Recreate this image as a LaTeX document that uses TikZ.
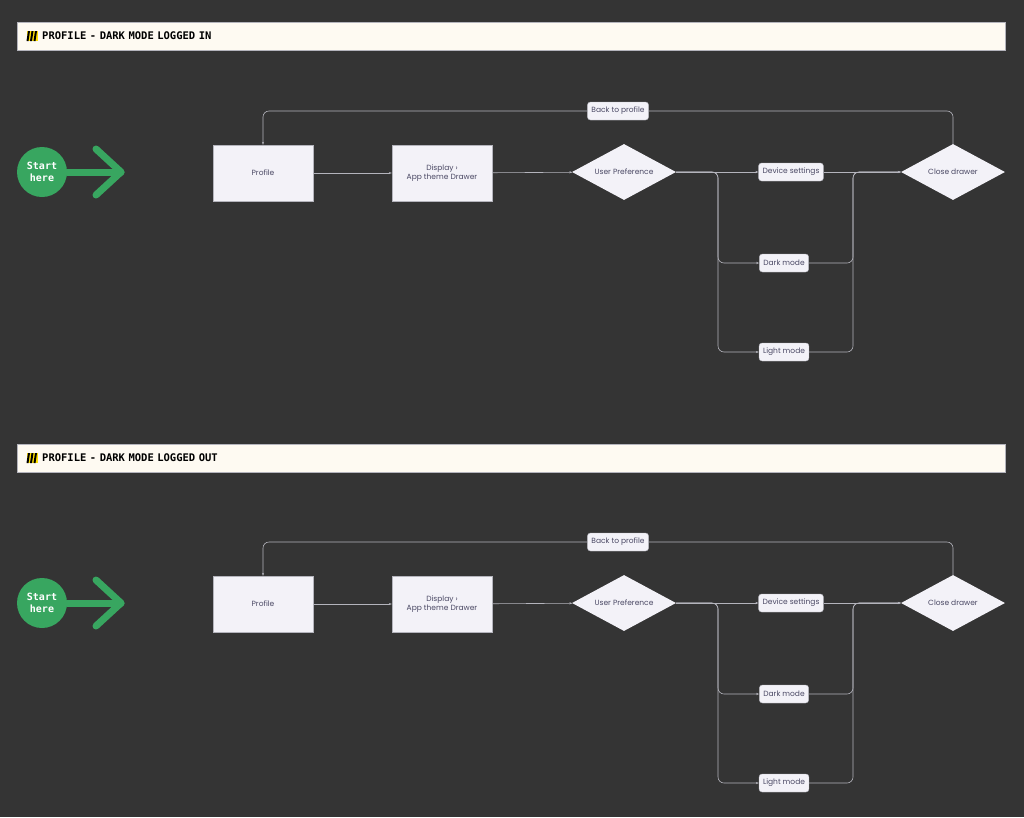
\documentclass[tikz,border=0pt]{standalone}
\usepackage{fontspec}
\setmainfont{Poppins}
\setmonofont{DejaVu Sans Mono}
\usetikzlibrary{shapes.geometric,arrows.meta}
\definecolor{BgColor}{RGB}{52,52,52}
\definecolor{BannerColor}{RGB}{254,250,242}
\definecolor{NodeColor}{RGB}{243,242,248}
\definecolor{TextColor}{RGB}{74,72,100}
\definecolor{LineColor}{RGB}{180,180,188}
\definecolor{StartColor}{RGB}{56,166,96}

\begin{document}
\begin{tikzpicture}[x=1pt, y=-1pt,
    box/.style={draw=LineColor, fill=NodeColor, minimum width=100pt, minimum height=56pt,
        font=\fontsize{7.5}{9}\selectfont, text=TextColor, align=center, inner sep=1pt},
    choice/.style={diamond, fill=NodeColor, minimum width=104pt, minimum height=56pt, aspect=1.85,
        inner sep=0pt, font=\fontsize{7.5}{9}\selectfont, text=TextColor},
    pill/.style={draw=LineColor, fill=NodeColor, rounded corners=3pt, minimum height=18pt,
        inner xsep=4pt, font=\fontsize{7.5}{9}\selectfont, text=TextColor},
    link/.style={draw=LineColor, line width=0.6pt, rounded corners=6pt, -{Stealth[length=3pt]}},
    banner/.style={fill=BannerColor, draw=LineColor, minimum width=988pt, minimum height=28pt,
        anchor=west, text width=970pt, font=\ttfamily\bfseries\fontsize{10.5}{12}\selectfont}]

    \fill[BgColor] (0,0) rectangle (1024,817);

    \foreach \dy/\by/\sec/\title in {0/36/A/LOGGED IN, 431/27/B/LOGGED OUT} {
        \begin{scope}[yshift=-\dy pt]
            % banner with a small barrier sign
            \node[banner] (\sec-banner) at (17,\by) {\hspace*{16pt}PROFILE - DARK MODE \title};
            \fill[yellow!80!orange] (27,\by-5) rectangle (38,\by+5);
            \foreach \i in {0,1,2} \fill[black] (28+3.5*\i,\by-5) -- (30+3.5*\i,\by-5) -- (28.5+3.5*\i,\by+5) -- (26.5+3.5*\i,\by+5) -- cycle;

            % start marker
            \node[circle, fill=StartColor, minimum size=50pt, text=white, align=center,
                font=\ttfamily\bfseries\fontsize{10}{12}\selectfont] (\sec-start) at (42,172) {Start\\here};
            \coordinate (\sec-tip) at (121,172);
            \draw[StartColor, line width=7pt, line cap=round] (\sec-start.east) -- (\sec-tip);
            \draw[StartColor, line width=7pt, line cap=round, line join=round]
                (96,149) -- (\sec-tip) -- (96,195);

            \node[box] (\sec-profile) at (263,173) {Profile};
            \node[box] (\sec-display) at (442,173) {Display ›\\App theme Drawer};
            \node[choice] (\sec-pref) at (624,172) {User Preference};
            \node[choice] (\sec-close) at (953,172) {Close drawer};
            \node[pill] (\sec-device) at (791,172) {Device settings};
            \node[pill] (\sec-dark) at (784,263) {Dark mode};
            \node[pill] (\sec-light) at (784,352) {Light mode};
            \node[pill] (\sec-back) at (618,111) {Back to profile};

            \draw[link] (\sec-profile) -- (\sec-display);
            \draw[link] (\sec-display) -- (\sec-pref);
            \draw[link] (\sec-pref.east) -- (\sec-device);
            \draw[link] (\sec-pref.east) -| (718,263) -- (\sec-dark);
            \draw[link] (\sec-pref.east) -| (718,352) -- (\sec-light);
            \draw[link] (\sec-device) -- (\sec-close.west);
            \draw[link] (\sec-dark) -| (853,172) -- (\sec-close.west);
            \draw[link] (\sec-light) -| (853,172) -- (\sec-close.west);
            \draw[link, -] (\sec-close.north) |- (\sec-back);
            \draw[link] (\sec-back) -| (\sec-profile.north);
        \end{scope}
    }
\end{tikzpicture}
\end{document}
